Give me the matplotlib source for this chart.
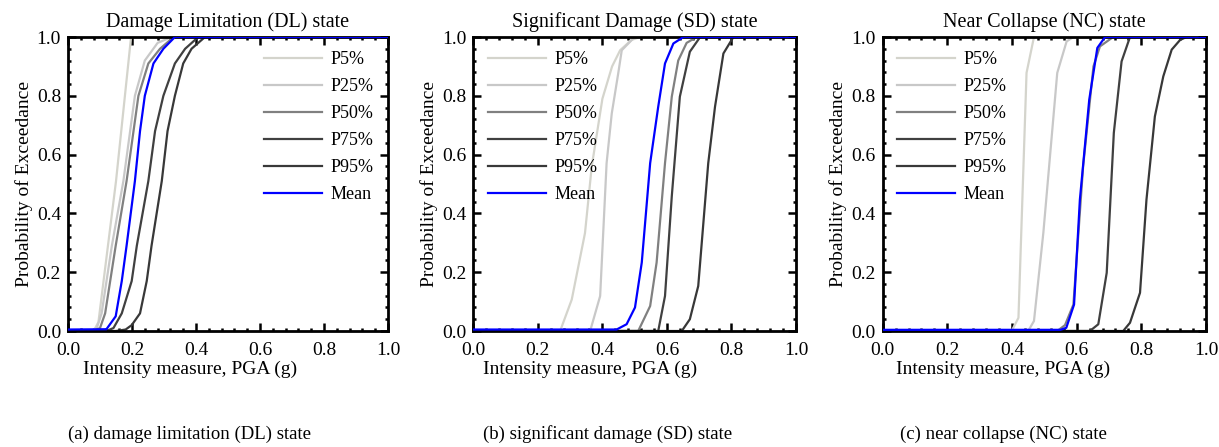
import matplotlib
matplotlib.use("Agg")
import matplotlib.pyplot as plt
from matplotlib.ticker import MultipleLocator

plt.rcParams['font.family'] = ['Liberation Serif', 'DejaVu Serif']

labels = ['P5%', 'P25%', 'P50%', 'P75%', 'P95%', 'Mean']
colors = ['#d4d4cc', '#c8c8c8', '#808080', '#404040', '#383838', '#0000ff']

# Damage Limitation (DL) state: (x, y) per curve
dl_x = [
    [0, 0.08, 0.095, 0.15, 0.197, 1.0],
    [0, 0.07, 0.09, 0.105, 0.137, 0.173, 0.209, 0.24, 0.28, 0.324, 1.0],
    [0, 0.08, 0.10, 0.116, 0.149, 0.183, 0.22, 0.251, 0.2875, 0.33, 1.0],
    [0, 0.12, 0.142, 0.168, 0.199, 0.215, 0.251, 0.272, 0.298, 0.334, 0.366, 0.407, 1.0],
    [0, 0.15, 0.18, 0.199, 0.225, 0.246, 0.261, 0.293, 0.311, 0.334, 0.36, 0.386, 0.428, 1.0],
    [0, 0.12, 0.149, 0.168, 0.183, 0.209, 0.225, 0.24, 0.267, 0.298, 0.334, 1.0],
]
dl_y = [
    [0, 0, 0.03, 0.51, 1.0, 1.0],
    [0, 0, 0.01, 0.06, 0.29, 0.51, 0.80, 0.92, 0.98, 1.0, 1.0],
    [0, 0, 0.01, 0.06, 0.29, 0.51, 0.80, 0.91, 0.96, 1.0, 1.0],
    [0, 0, 0.01, 0.06, 0.17, 0.29, 0.51, 0.68, 0.80, 0.91, 0.96, 1.0, 1.0],
    [0, 0, 0.005, 0.02, 0.06, 0.17, 0.29, 0.51, 0.68, 0.80, 0.91, 0.96, 1.0, 1.0],
    [0.005, 0.006, 0.05, 0.17, 0.29, 0.51, 0.68, 0.80, 0.91, 0.96, 1.0, 1.0],
]

# Significant Damage (SD) state
sd_x = [
    [0, 0.269, 0.305, 0.346, 0.367, 0.40, 0.43, 0.455, 0.49, 0.517, 1.0],
    [0, 0.362, 0.393, 0.403, 0.413, 0.429, 0.449, 0.46, 0.50, 1.0],
    [0, 0.511, 0.548, 0.568, 0.594, 0.615, 0.635, 0.661, 0.692, 1.0],
    [0, 0.573, 0.594, 0.615, 0.64, 0.671, 0.703, 1.0],
    [0, 0.646, 0.671, 0.697, 0.728, 0.749, 0.775, 0.806, 1.0],
    [0, 0.444, 0.475, 0.501, 0.522, 0.548, 0.573, 0.594, 0.62, 0.651, 1.0],
]
sd_y = [
    [0, 0, 0.107, 0.333, 0.56, 0.79, 0.9, 0.955, 0.99, 1.0, 1.0],
    [0, 0, 0.119, 0.345, 0.571, 0.74, 0.876, 0.955, 1.0, 1.0],
    [0, 0, 0.085, 0.233, 0.571, 0.797, 0.92, 0.98, 1.0, 1.0],
    [0, 0, 0.119, 0.458, 0.797, 0.95, 1.0, 1.0],
    [0, 0, 0.04, 0.153, 0.571, 0.763, 0.944, 1.0, 1.0],
    [0.005, 0.005, 0.023, 0.08, 0.233, 0.571, 0.763, 0.91, 0.978, 1.0, 1.0],
]

# Near Collapse (NC) state
nc_x = [
    [0, 0.399, 0.42, 0.445, 0.468, 1.0],
    [0, 0.45, 0.468, 0.497, 0.54, 0.569, 0.59, 1.0],
    [0, 0.54, 0.564, 0.59, 0.62, 0.652, 0.672, 0.713, 1.0],
    [0, 0.641, 0.667, 0.693, 0.715, 0.739, 0.765, 1.0],
    [0, 0.744, 0.765, 0.796, 0.816, 0.842, 0.868, 0.894, 0.92, 0.94, 1.0],
    [0, 0.55, 0.568, 0.592, 0.61, 0.639, 0.664, 0.688, 1.0],
]
nc_y = [
    [0, 0, 0.045, 0.878, 1.0, 1.0],
    [0, 0, 0.034, 0.334, 0.878, 0.985, 1.0, 1.0],
    [0, 0, 0.02, 0.09, 0.56, 0.90, 0.968, 1.0, 1.0],
    [0, 0, 0.023, 0.198, 0.674, 0.917, 1.0, 1.0],
    [0, 0, 0.028, 0.13, 0.447, 0.73, 0.866, 0.957, 0.99, 1.0, 1.0],
    [0.004, 0.004, 0.011, 0.09, 0.447, 0.787, 0.963, 1.0, 1.0],
]

titles = ['Damage Limitation (DL) state', 'Significant Damage (SD) state',
          'Near Collapse (NC) state']
captions = ['(a) damage limitation (DL) state', '(b) significant damage (SD) state',
            '(c) near collapse (NC) state']
panels = [(dl_x, dl_y), (sd_x, sd_y), (nc_x, nc_y)]
lefts = [0.0558, 0.3883, 0.7241]
widths = [0.2625, 0.2647, 0.2652]
legend_locs = ['upper right', 'upper left', 'upper left']
# xlabel / caption centres (pixels) sit a little left of the axes centres
xlabel_x = [190, 590, 1003]
caption_x = [190, 608, 1003]

fig = plt.figure(figsize=(12.19, 4.47), dpi=100)

for i, (xs, ys) in enumerate(panels):
    ax = fig.add_axes([lefts[i], 0.2595, widths[i], 0.6577])
    for j in range(len(labels)):
        ax.plot(xs[j], ys[j], color=colors[j], lw=1.6, label=labels[j],
                zorder=3 if labels[j] == 'Mean' else 2)
    ax.set_xlim(0, 1)
    ax.set_ylim(0, 1)
    ax.xaxis.set_major_locator(MultipleLocator(0.2))
    ax.yaxis.set_major_locator(MultipleLocator(0.2))
    ax.xaxis.set_minor_locator(MultipleLocator(0.04))
    ax.yaxis.set_minor_locator(MultipleLocator(0.04))
    ax.tick_params(which='both', direction='in', top=True, right=True, width=1.8,
                   labelsize=14)
    ax.tick_params(which='major', length=6)
    ax.tick_params(which='minor', length=2.5)
    ax.tick_params(axis='x', which='major', pad=8)
    ax.tick_params(axis='y', which='major', pad=5)
    for s in ax.spines.values():
        s.set_linewidth(2)
    ax.set_title(titles[i], fontsize=14.5, pad=7)
    ax.set_ylabel('Probability of Exceedance', fontsize=14, labelpad=3)
    ax.legend(loc=legend_locs[i], frameon=False, fontsize=13, handlelength=3.2,
              labelspacing=0.55, handletextpad=0.5, borderaxespad=0.4)
    fig.text(xlabel_x[i] / 1219, 1 - 369 / 447, 'Intensity measure, PGA (g)',
             ha='center', va='center', fontsize=14)
    fig.text(caption_x[i] / 1219, 1 - 434 / 447, captions[i], ha='center',
             va='center', fontsize=13.5)

fig.savefig('out.png', dpi=100)
